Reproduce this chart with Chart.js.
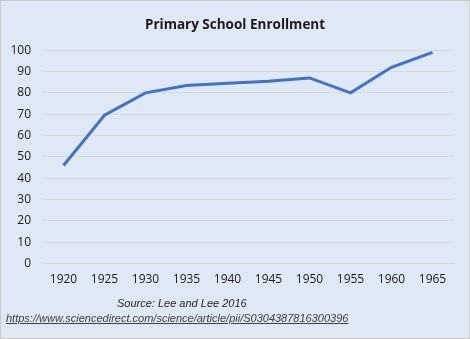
<!DOCTYPE html>
<html>
<head>
<meta charset="utf-8">
<script src="https://cdn.jsdelivr.net/npm/chart.js@4/dist/chart.umd.min.js"></script>
<style>
  html, body { margin: 0; padding: 0; }
  body { width: 470px; height: 339px; position: relative; overflow: hidden; }
  #wrap { position: absolute; left: 0; top: 0; width: 468px; height: 337px; border: 1px solid #c9c9c9; background: #dee9f5; }
  #mycanvas { position: absolute; left: 0; top: 0; }
  .note { position: absolute; font-family: "Liberation Sans", Arial, sans-serif; font-style: italic; font-size: 11px; color: #262626; white-space: nowrap; }
  #src { left: 116px; top: 296px; }
  #url { left: 5px; top: 311px; text-decoration: underline; color: #404040; }
</style>
</head>
<body>
<div id="wrap">
  <canvas id="mycanvas" width="468" height="337"></canvas>
  <div class="note" id="src">Source: Lee and Lee 2016</div>
  <div class="note" id="url">https://www.sciencedirect.com/science/article/pii/S0304387816300396</div>
</div>
<script>
var years = ['1920', '1925', '1930', '1935', '1940', '1945', '1950', '1955', '1960', '1965'];
var enrollment = [46, 69.5, 80, 83.5, 84.5, 85.5, 87, 80, 92, 99];
var yTicks = [0, 10, 20, 30, 40, 50, 60, 70, 80, 90, 100];

var ctx = document.getElementById('mycanvas');

var lineChart = new Chart(ctx, {
  type: 'line',
  data: {
    labels: years,
    datasets: [
      {
        label: 'Primary School Enrollment',
        data: enrollment,
        borderColor: '#4472c4',
        backgroundColor: '#4472c4',
        borderWidth: 3,
        pointRadius: 0,
        tension: 0,
        fill: false
      }
    ]
  },
  options: {
    responsive: false,
    animation: false,
    layout: { padding: { left: 0, right: 0, top: 0, bottom: 42 } },
    plugins: {
      legend: { display: false },
      tooltip: { enabled: false },
      title: {
        display: true,
        text: 'Primary School Enrollment',
        color: '#1a1a1a',
        font: { family: 'Open Sans', size: 13.5, weight: 'bold' },
        padding: { top: 16, bottom: 17 }
      }
    },
    scales: {
      x: {
        offset: true,
        grid: { display: false, drawTicks: false },
        border: { display: true, color: '#d9d9d9' },
        ticks: { color: '#1a1a1a', padding: 9, maxRotation: 0, font: { family: 'Open Sans', size: 12 } }
      },
      y: {
        min: 0,
        max: 100,
        afterBuildTicks: function(axis) {
          axis.ticks = yTicks.map(function(v) { return { value: v }; });
        },
        afterFit: function(axis) { axis.width = 42; },
        grid: { color: '#d9d9d9', drawTicks: false },
        border: { display: false },
        ticks: { color: '#1a1a1a', padding: 12, font: { family: 'Open Sans', size: 12 } }
      },
      // empty right-hand margin so the title stays centred on the page
      yRight: {
        position: 'right',
        grid: { display: false, drawTicks: false },
        border: { display: false },
        ticks: { display: false },
        afterFit: function(axis) { axis.width = 16; }
      }
    }
  }
});
</script>
</body>
</html>
